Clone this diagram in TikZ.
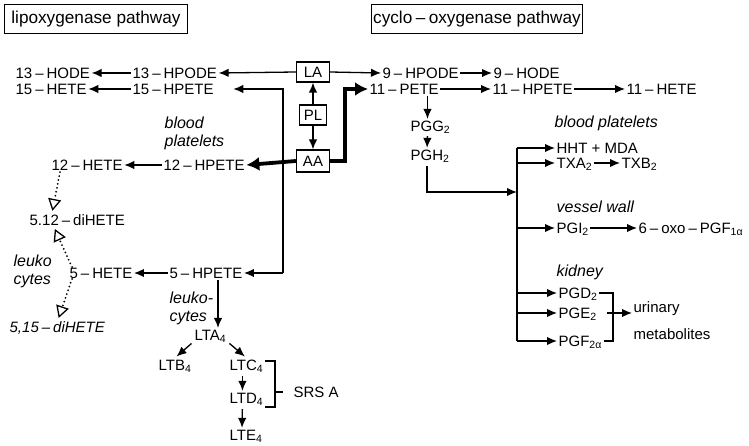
\documentclass[tikz,border=0pt]{standalone}
\usepackage{fontspec}
\setmainfont{Liberation Sans}
\usetikzlibrary{arrows.meta, positioning}
\newcommand{\dsh}{\hspace{0.2em}--\hspace{0.2em}}

\begin{document}
\begin{tikzpicture}[x=1pt, y=-1pt, line width=1.3pt,
    >={Latex[length=10pt,width=8.5pt]},
    font=\fontsize{15}{17}\selectfont,
    sp/.style={anchor=west, inner sep=1pt, text height=11pt, text depth=0pt},
    box/.style={draw, inner sep=0pt, minimum height=20pt},
    head/.style={draw, inner sep=0pt, minimum height=29pt, font=\fontsize{17.2}{19}\selectfont},
    note/.style={anchor=west, inner sep=1pt, align=left, font=\fontsize{16}{18}\selectfont\itshape},
    fat/.style={line width=3.8pt, -{Latex[length=13pt,width=14pt]}},
    dots/.style={line width=2pt, line cap=round, dash pattern=on 0pt off 4pt,
      -{Triangle[open,length=12pt,width=13pt,line width=1.3pt,sep=0pt]}, shorten >=2pt}]
\useasboundingbox (0,0) rectangle (749,446);

\node[head, minimum width=183pt] (lipox) at (96,19) {lipoxygenase pathway};
\node[head, minimum width=211pt] (cyclo) at (477,19) {cyclo\dsh oxygenase pathway};

\node[box, minimum width=33pt] (LA) at (313,72) {LA};
\node[box, minimum width=27pt] (PL) at (313,115) {PL};
\node[box, minimum width=33pt, minimum height=22pt] (AA) at (313,161) {AA};

% lipoxygenase side
\node[sp] (hode13) at (14,73) {13\dsh HODE};
\node[sp] (hpode13) at (131,73) {13\dsh HPODE};
\node[sp] (hete15) at (14,89) {15\dsh HETE};
\node[sp] (hpete15) at (131,89) {15\dsh HPETE};
\node[note] (bp1) at (163,133) {blood\\platelets};
\node[sp] (hete12) at (50,165) {12\dsh HETE};
\node[sp] (hpete12) at (162,165) {12\dsh HPETE};
\node[sp] (dihete512) at (28,220) {5.12\dsh diHETE};
\node[note] (leuko1) at (12,271) {leuko\\cytes};
\node[sp] (hete5) at (68,273) {5\dsh HETE};
\node[sp] (hpete5) at (168,273) {5\dsh HPETE};
\node[sp, font=\fontsize{15}{17}\selectfont\itshape] (dihete515) at (8,327) {5,15\dsh diHETE};
\node[note] (leuko2) at (168,308) {leuko-\\cytes};
\node[sp] (lta4) at (193,335) {LTA\textsubscript{4}};
\node[sp] (ltb4) at (157,365) {LTB\textsubscript{4}};
\node[sp] (ltc4) at (228,365) {LTC\textsubscript{4}};
\node[sp] (ltd4) at (228,398) {LTD\textsubscript{4}};
\node[sp] (lte4) at (228,435) {LTE\textsubscript{4}};
\node[sp] (srs) at (292,392) {SRS A};

% cyclo-oxygenase side
\node[sp] (hpode9) at (381,73) {9\dsh HPODE};
\node[sp] (hode9) at (492,73) {9\dsh HODE};
\node[sp] (pete11) at (368,89) {11\dsh PETE};
\node[sp] (hpete11) at (491,89) {11\dsh HPETE};
\node[sp] (hete11) at (625,89) {11\dsh HETE};
\node[sp] (pgg2) at (409,126) {PGG\textsubscript{2}};
\node[sp] (pgh2) at (409,155) {PGH\textsubscript{2}};
\node[note] (bp2) at (553,123) {blood platelets};
\node[sp] (hht) at (555,148) {HHT + MDA};
\node[sp] (txa2) at (555,163) {TXA\textsubscript{2}};
\node[sp] (txb2) at (620,163) {TXB\textsubscript{2}};
\node[note] (vessel) at (555,207) {vessel wall};
\node[sp] (pgi2) at (555,228) {PGI\textsubscript{2}};
\node[sp] (oxo) at (637,228) {6\dsh oxo\dsh PGF\textsubscript{1α}};
\node[note] (kidney) at (555,272) {kidney};
\node[sp] (pgd2) at (557,293) {PGD\textsubscript{2}};
\node[sp] (pge2) at (557,313) {PGE\textsubscript{2}};
\node[sp] (pgf2a) at (557,341) {PGF\textsubscript{2α}};
\node[sp] (urin) at (632,307) {urinary};
\node[sp] (metab) at (632,334) {metabolites};

\coordinate (split) at (283,0);
\coordinate (hub) at (517,192);
\coordinate (brk) at (275,0);
\coordinate (brk2) at (613,0);

\draw[->] (PL) -- (LA);
\draw[->] (PL) -- (AA);
\draw[->] (LA.west) -- (hpode13.east);
\draw[->] (hpode13.west) -- (hode13.east);
\draw[->] (hpete15.west) -- (hete15.east);
\draw[->] (LA.east) -- (hpode9.west);
\draw[->] (hpode9.east) -- (hode9.west);
\draw[->] (pete11.east) -- (hpete11.west);
\draw[->] (hpete11.east) -- (hete11.west);

\draw[fat] (AA.west) -- (hpete12.east);
\draw[fat] (AA.east) -- ++(15,0) |- (pete11.west);
\draw[->] (hpete5.east -| split) |- ([xshift=18pt]hpete15.east);
\draw[->] (hpete5.east -| split) -- (hpete5.east);
\draw[->] (hpete12.west) -- (hete12.east);
\draw[->] (hpete5.west) -- (hete5.east);

\draw[dots] ([xshift=10pt]hete12.south west) -- ([xshift=24pt]dihete512.north west);
\draw[dots] ([xshift=4pt,yshift=6pt]hete5.west) -- ([xshift=26pt]dihete512.south west);
\draw[dots] ([xshift=4pt,yshift=-6pt]hete5.west) -- ([xshift=50pt]dihete515.north west);

\draw[->] ([xshift=12pt]hpete5.south) -- ([xshift=12pt]hpete5.south |- lta4.north);
\draw[->, shorten <=2pt, shorten >=2pt] (lta4.south west) -- (ltb4.north);
\draw[->, shorten <=2pt, shorten >=2pt] (lta4.south east) -- (ltc4.north);
\draw[->, shorten <=4pt] ([xshift=-4pt]ltc4.south) -- ([xshift=-4pt]ltd4.north);
\draw[->, shorten <=4pt] ([xshift=-4pt]ltd4.south) -- ([xshift=-4pt]lte4.north);
\draw ([yshift=4pt]ltc4.east) -| ([yshift=-9pt]ltd4.east -| brk) -- ([yshift=-9pt]ltd4.east);
\draw (srs.west -| brk) -- ++(8,0);

\draw[->] (pete11.south -| pgg2.north) ++(-3,0) -- ([xshift=-3pt]pgg2.north);
\draw[->, shorten <=3pt] ([xshift=-3pt]pgg2.south) -- ([xshift=-3pt]pgh2.north);
\draw[->, shorten <=4pt] ([xshift=-3pt]pgh2.south) |- (hub);
\draw (hht.west -| hub) -- (pgf2a.west -| hub);
\foreach \n in {hht, txa2, pgi2, pgd2, pge2, pgf2a}
  \draw[->] (\n.west -| hub) -- (\n.west);
\draw[->] (txa2.east) -- (txb2.west);
\draw[->] (pgi2.east) -- (oxo.west);
\draw (pgd2.east) -| (pgf2a.east -| brk2) -- (pgf2a.east);
\draw[->] ([xshift=-6pt]pge2.east -| brk2) -- (urin.west |- pge2.east);
\end{tikzpicture}
\end{document}
